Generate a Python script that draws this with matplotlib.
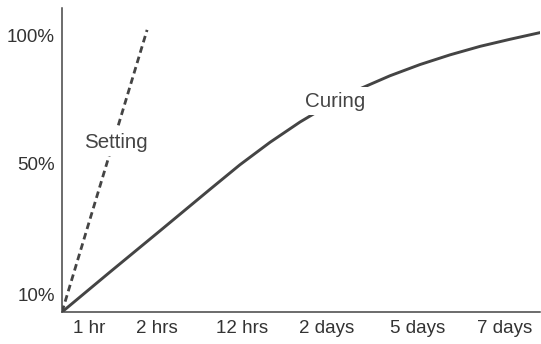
import matplotlib.pyplot as plt

plt.rcParams["font.family"] = ["Liberation Sans", "DejaVu Sans"]

# time axis and strength axis, both on a 0-100 drawing scale
x_ticks = [5.6, 19.9, 37.7, 55.4, 74.5, 92.5]
x_labels = ["1 hr", "2 hrs", "12 hrs", "2 days", "5 days", "7 days"]
y_ticks = [5.6, 49.0, 91.1]
y_labels = ["10%", "50%", "100%"]

# curing curve
curing_x = [0, 10.0, 20.5, 31.0, 37.2, 43.5, 49.8, 56.1, 62.3, 68.6,
            74.9, 81.2, 87.5, 93.7, 100]
curing_y = [0, 13.1, 26.7, 40.4, 48.4, 55.8, 62.5, 68.4, 73.4, 77.7,
            81.4, 84.6, 87.4, 89.7, 91.9]

# setting line
setting_x = [0, 17.8]
setting_y = [0, 92.8]

ink = "#444444"

fig = plt.figure(figsize=(5.41, 3.44), dpi=100)
ax = fig.add_axes([62 / 541, 32 / 344, 478 / 541, 304 / 344])

ax.plot(curing_x, curing_y, color=ink, lw=2.1, solid_joinstyle="round")
ax.plot(setting_x, setting_y, color=ink, lw=2.0, linestyle=(0, (2.4, 1.5)))

box = dict(facecolor="white", edgecolor="none", pad=3)
ax.text(11.3, 55.9, "Setting", ha="center", va="center", fontsize=14.8,
        color=ink, bbox=box)
ax.text(57.1, 69.4, "Curing", ha="center", va="center", fontsize=14.8,
        color=ink, bbox=box)

ax.set_xlim(0, 100)
ax.set_ylim(0, 100)
ax.set_xticks(x_ticks, x_labels)
ax.set_yticks(y_ticks, y_labels)
ax.tick_params(length=0, labelsize=13.5, labelcolor="#333333")
ax.tick_params(axis="x", pad=6)
ax.tick_params(axis="y", pad=5)

for side in ["top", "right"]:
    ax.spines[side].set_visible(False)
for side in ["left", "bottom"]:
    ax.spines[side].set_color(ink)
    ax.spines[side].set_linewidth(1.1)

fig.savefig("out.png", dpi=100)
